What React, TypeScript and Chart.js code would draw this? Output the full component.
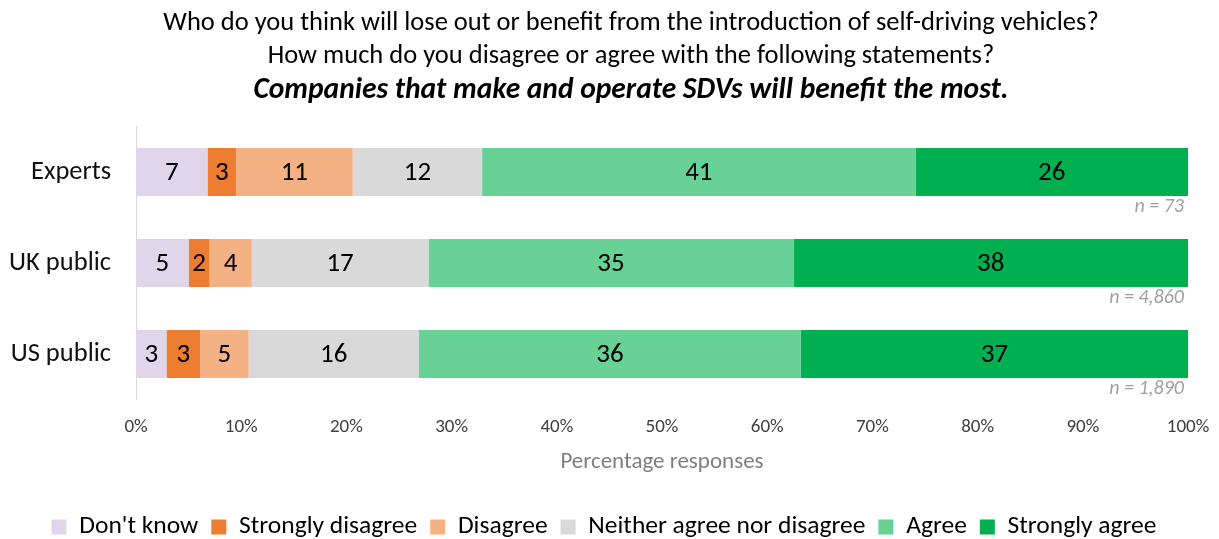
import React, { useEffect, useRef } from "react";
import { Chart, registerables } from "chart.js";

Chart.register(...registerables);

const FONT = "Carlito, Lato, sans-serif";

const categories = ["Experts", "UK public", "US public"];
const sampleSizes = ["n = 73", "n = 4,860", "n = 1,890"];
const seriesNames = ["Don't know", "Strongly disagree", "Disagree", "Neither agree nor disagree", "Agree", "Strongly agree"];
const dontKnow = [6.8, 5.0, 2.9];
const stronglyDisagree = [2.7, 2.0, 3.2];
const disagree = [11.1, 4.0, 4.6];
const neither = [12.3, 16.8, 16.2];
const agree = [41.2, 34.7, 36.3];
const stronglyAgree = [25.9, 37.5, 36.8];
const seriesColors = ["#e1d5ea", "#ed7d31", "#f4b183", "#d9d9d9", "#67d196", "#00b050"];
const titleLines = [
  "Who do you think will lose out or benefit from the introduction of self-driving vehicles?",
  "How much do you disagree or agree with the following statements?",
];
const subtitleText = "Companies that make and operate SDVs will benefit the most.";
const xTicks = [0, 10, 20, 30, 40, 50, 60, 70, 80, 90, 100];

const seriesValues = [dontKnow, stronglyDisagree, disagree, neither, agree, stronglyAgree];

const TITLE_SHIFT = 37;
const LEGEND_SHIFT = 10;

const shiftPlugin = {
  id: "shiftBoxes",
  afterLayout(chart: any) {
    chart.boxes.forEach((b: any) => {
      if (b.position === "top" && !b.axis) {
        b.left += TITLE_SHIFT;
        b.right += TITLE_SHIFT;
      }
    });
    if (chart.legend) {
      chart.legend.left += LEGEND_SHIFT;
      chart.legend.right += LEGEND_SHIFT;
    }
  },
};

const labelPlugin = {
  id: "barLabels",
  afterDatasetsDraw(chart: any) {
    const ctx = chart.ctx;
    ctx.save();
    ctx.font = `27px ${FONT}`;
    ctx.fillStyle = "#000000";
    ctx.textAlign = "center";
    ctx.textBaseline = "middle";
    chart.data.datasets.forEach((ds: any, di: number) => {
      const meta = chart.getDatasetMeta(di);
      meta.data.forEach((el: any, i: number) => {
        const v = ds.data[i];
        const x = (el.x + el.base) / 2;
        ctx.fillText(String(Math.round(v)), x, el.y + 1);
      });
    });
    const lastMeta = chart.getDatasetMeta(chart.data.datasets.length - 1);
    ctx.font = `italic 20px ${FONT}`;
    ctx.fillStyle = "#9f9f9f";
    ctx.textAlign = "right";
    lastMeta.data.forEach((el: any, i: number) => {
      ctx.fillText(sampleSizes[i], chart.chartArea.right - 4, el.y + el.height / 2 + 11);
    });
    ctx.restore();
  },
};

export default function App() {
  const ref = useRef<HTMLCanvasElement>(null);
  useEffect(() => {
    document.body.style.margin = "0";
    const chart = new Chart(ref.current as HTMLCanvasElement, {
      type: "bar",
      data: {
        labels: categories,
        datasets: seriesNames.map((name, i) => ({
          label: name,
          data: seriesValues[i],
          backgroundColor: seriesColors[i],
          borderWidth: 0,
          categoryPercentage: 1,
          barPercentage: 0.53,
        })),
      },
      options: {
        indexAxis: "y",
        animation: false,
        responsive: false,
        maintainAspectRatio: false,
        layout: { padding: { left: 0, right: 31, top: 0, bottom: 0 } },
        scales: {
          x: {
            stacked: true,
            min: 0,
            max: 100,
            afterBuildTicks(scale: any) {
              scale.ticks = xTicks.map((v) => ({ value: v }));
            },
            afterFit(scale: any) {
              scale.height = 101.75;
              scale.paddingLeft = 0;
              scale.paddingRight = 0;
            },
            grid: { display: false, drawTicks: false },
            border: { display: false },
            ticks: {
              padding: 16,
              color: "#404040",
              font: { family: FONT, size: 19 },
              callback: (v: any) => v + "%",
              maxRotation: 0,
            },
            title: {
              display: true,
              text: "Percentage responses",
              color: "#7f7f7f",
              font: { family: FONT, size: 23 },
              padding: { top: 0, bottom: 25 },
            },
          },
          y: {
            stacked: true,
            afterFit(scale: any) {
              scale.width = 136;
            },
            grid: { display: false, drawTicks: false },
            border: { display: true, color: "#d9d9d9", width: 1 },
            ticks: {
              padding: 25,
              color: "#111111",
              font: { family: FONT, size: 26.5 },
            },
          },
        },
        plugins: {
          title: {
            display: true,
            text: titleLines,
            color: "#000000",
            font: { family: FONT, size: 26.5, weight: "normal", lineHeight: "33px" },
            padding: { top: 7, bottom: 0 },
          },
          subtitle: {
            display: true,
            text: subtitleText,
            color: "#000000",
            font: { family: FONT, size: 29.5, weight: "bold", style: "italic", lineHeight: "32px" },
            padding: { top: 2, bottom: 19.5 },
          },
          legend: {
            position: "bottom",
            maxHeight: 37.75,
            labels: {
              boxWidth: 15,
              boxHeight: 15,
              padding: 13,
              color: "#000000",
              font: { family: FONT, size: 25.5 },
            },
          },
          tooltip: { enabled: false },
        },
      },
      plugins: [shiftPlugin, labelPlugin],
    } as any);
    return () => chart.destroy();
  }, []);
  return (
    <div style={{ width: 1219, height: 539 }}>
      <canvas ref={ref} width={1219} height={539} style={{ display: "block" }} />
    </div>
  );
}
